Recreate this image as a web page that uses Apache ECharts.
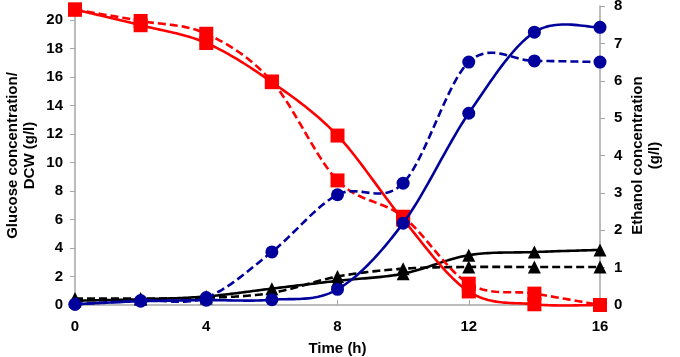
<!DOCTYPE html>
<html><head><meta charset="utf-8">
<script src="https://cdn.jsdelivr.net/npm/echarts@6/dist/echarts.min.js"></script>
<style>html,body{margin:0;padding:0;background:#fff}#c{width:680px;height:357px}</style>
</head><body><div id="c"></div>
<script>
var time = [0, 2, 4, 6, 8, 10, 12, 14, 16];
var glucoseSolid = [20.75, 19.65, 18.4, 15.65, 11.9, 6.0, 0.95, 0.05, 0.0];
var glucoseDashed = [20.75, 19.95, 19.05, 15.7, 8.75, 6.2, 1.5, 0.8, 0.0];
var dcwSolid = [0.3, 0.4, 0.6, 1.15, 1.7, 2.2, 3.5, 3.72, 3.87];
var dcwDashed = [0.45, 0.45, 0.5, 0.85, 2.0, 2.55, 2.67, 2.67, 2.67];
var ethanolSolid = [0.02, 0.1, 0.13, 0.14, 0.42, 2.19, 5.13, 7.3, 7.43];
var ethanolDashed = [0.02, 0.12, 0.2, 1.42, 2.95, 3.26, 6.5, 6.53, 6.5];
var xTicks = [0, 4, 8, 12, 16];
var leftTicks = [0, 2, 4, 6, 8, 10, 12, 14, 16, 18, 20];
var rightTicks = [0, 1, 2, 3, 4, 5, 6, 7, 8];

function pairs(ys){ return time.map(function(t,i){ return [t, ys[i]]; }); }
var FONT = '"Liberation Sans", Arial, sans-serif';
var axisGray = '#a6a6a6';
var lab = {color:'#000', fontWeight:'bold', fontSize:15, fontFamily:FONT};

// Smoothed curve (Catmull-Rom style, as in spreadsheet smoothed lines), positioned via api.coord
function curveSeries(ys, yIdx, color, dashed, z){
  return {
    type: 'custom', yAxisIndex: yIdx, data: pairs(ys), z: z, silent: true, animation: false,
    clip: false,
    renderItem: function(params, api){
      if (params.dataIndex !== 0) return {type:'group', children:[]};
      var P = time.map(function(t,i){ return api.coord([t, ys[i]]); });
      var n = P.length, out = [];
      for (var i = 0; i < n - 1; i++){
        var p0 = P[Math.max(i-1,0)], p1 = P[i], p2 = P[i+1], p3 = P[Math.min(i+2,n-1)];
        var c1 = [p1[0] + (p2[0]-p0[0])/6, p1[1] + (p2[1]-p0[1])/6];
        var c2 = [p2[0] - (p3[0]-p1[0])/6, p2[1] - (p3[1]-p1[1])/6];
        var steps = 24;
        for (var s = (i === 0 ? 0 : 1); s <= steps; s++){
          var u = s/steps, v = 1-u;
          out.push([
            v*v*v*p1[0] + 3*v*v*u*c1[0] + 3*v*u*u*c2[0] + u*u*u*p2[0],
            v*v*v*p1[1] + 3*v*v*u*c1[1] + 3*v*u*u*c2[1] + u*u*u*p2[1]
          ]);
        }
      }
      return {
        type: 'polyline', shape: {points: out},
        style: {stroke: color, fill: null, lineWidth: 2.6, lineDash: dashed ? [8,4] : null, lineJoin:'round'}
      };
    }
  };
}
function markers(ys, yIdx, color, symbol, size, z){
  return {
    type: 'scatter', yAxisIndex: yIdx, data: pairs(ys), symbol: symbol, symbolSize: size,
    itemStyle: {color: color, opacity: 1}, z: z, silent: true, animation: false
  };
}

var chart = echarts.init(document.getElementById('c'), null, {renderer:'canvas'});
chart.setOption({
  animation: false,
  grid: {left: 75, right: 80, top: 6, bottom: 52, containLabel: false, outerBoundsMode: 'none'},
  xAxis: {
    type: 'value', min: 0, max: 16, interval: 4,
    name: 'Time (h)', nameLocation: 'middle', nameGap: 36, nameMoveOverlap: false,
    nameTextStyle: lab,
    axisLine: {show: true, lineStyle: {color: axisGray, width: 1.5}},
    axisTick: {show: true, inside: true, length: 5, lineStyle: {color: axisGray}, customValues: xTicks},
    axisLabel: Object.assign({margin: 14, customValues: xTicks}, lab),
    splitLine: {show: false}
  },
  yAxis: [{
    type: 'value', min: 0, max: 21, position: 'left',
    name: 'Glucose concentration/\nDCW (g/l)', nameLocation: 'middle', nameGap: 37, nameRotate: 90,
    nameMoveOverlap: false,
    nameTextStyle: Object.assign({lineHeight: 17}, lab),
    axisLine: {show: true, lineStyle: {color: axisGray, width: 1.5}},
    axisTick: {show: true, length: 5, lineStyle: {color: axisGray}, customValues: leftTicks},
    axisLabel: Object.assign({margin: 12, customValues: leftTicks}, lab),
    splitLine: {show: false}
  }, {
    type: 'value', min: 0, max: 8, position: 'right',
    name: 'Ethanol concentration\n(g/l)', nameLocation: 'middle', nameGap: 29, nameRotate: 90,
    nameMoveOverlap: false,
    nameTextStyle: Object.assign({lineHeight: 17}, lab),
    axisLine: {show: true, lineStyle: {color: axisGray, width: 1.5}},
    axisTick: {show: true, length: 5, lineStyle: {color: axisGray}, customValues: rightTicks},
    axisLabel: Object.assign({margin: 14, customValues: rightTicks}, lab),
    splitLine: {show: false}
  }],
  series: [
    curveSeries(dcwSolid, 0, '#000000', false, 1),
    curveSeries(dcwDashed, 0, '#000000', true, 1),
    markers(dcwSolid, 0, '#000000', 'triangle', 13, 2),
    markers(dcwDashed, 0, '#000000', 'triangle', 13, 2),
    curveSeries(glucoseSolid, 0, '#ff0000', false, 3),
    curveSeries(glucoseDashed, 0, '#ff0000', true, 3),
    markers(glucoseSolid, 0, '#ff0000', 'rect', 14, 4),
    markers(glucoseDashed, 0, '#ff0000', 'rect', 14, 4),
    curveSeries(ethanolSolid, 1, '#00009c', false, 5),
    curveSeries(ethanolDashed, 1, '#00009c', true, 5),
    markers(ethanolSolid, 1, '#00009c', 'circle', 13, 6),
    markers(ethanolDashed, 1, '#00009c', 'circle', 13, 6)
  ]
});
</script></body></html>
